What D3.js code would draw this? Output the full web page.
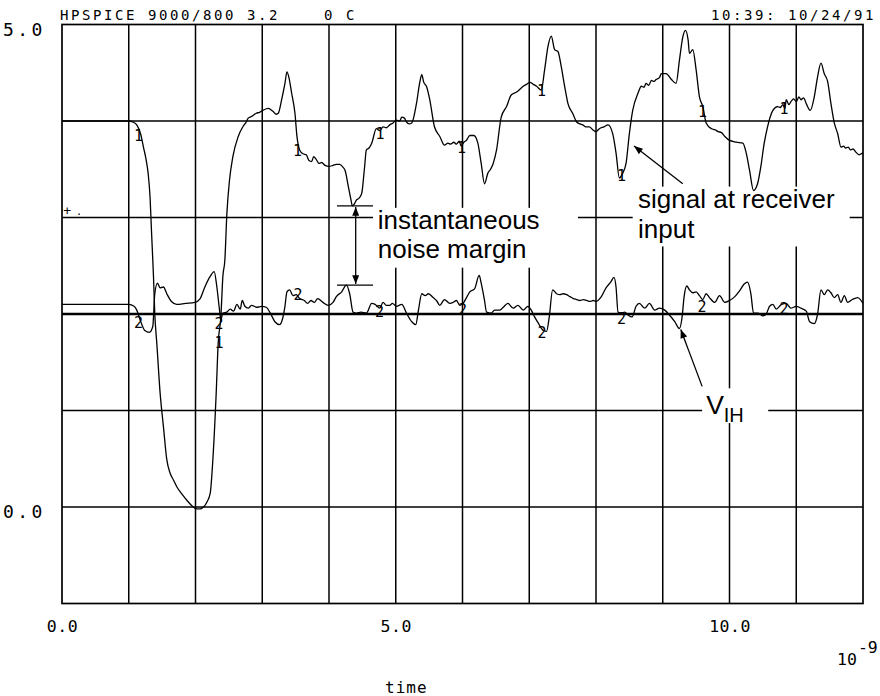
<!DOCTYPE html>
<html>
<head>
<meta charset="utf-8">
<script src="https://cdn.jsdelivr.net/npm/d3@7"></script>
<style>
  body { margin: 0; background: #fff; }
  svg { display: block; }
  .mono { font-family: "DejaVu Sans Mono", monospace; fill: #000; white-space: pre; }
  .note { font-family: "Liberation Sans", Arial, Helvetica, sans-serif; fill: #000; }
</style>
</head>
<body>
<svg id="chart" width="880" height="696"></svg>
<script>
// ---- data (time in ns, voltage in V) ----
const headerLeft = "HPSPICE 9000/800 3.2    0 C";
const headerRight = "10:39: 10/24/91";

const timeTicks = [0, 5, 10];
const timeTickLabels = ["0.0", "5.0", "10.0"];
const voltTicks = [0, 5];
const voltTickLabels = ["0.0", "5.0"];
const gridTimes = [1, 2, 3, 4, 5, 6, 7, 8, 9, 10, 11];
const gridVolts = [0, 1, 2, 3, 4];
const vihLevel = 2.0;

// trace 1: signal at receiver input
const receiverInput = [
  [0,4.00],[1.00,4.00],[1.06,3.99],[1.12,3.96],[1.18,3.86],[1.22,3.73],[1.26,3.60],[1.29,3.46],[1.32,3.20],[1.34,2.87],
  [1.37,2.40],[1.39,2.00],[1.42,1.70],[1.47,1.18],[1.52,0.83],[1.57,0.49],[1.62,0.35],[1.67,0.28],[1.72,0.21],[1.80,0.13],
  [1.87,0.07],[1.95,0.01],[2.02,-0.02],[2.07,-0.02],[2.12,0.00],[2.17,0.05],[2.22,0.14],[2.26,0.49],[2.31,1.18],[2.34,1.70],
  [2.38,1.97],[2.41,2.39],[2.44,2.56],[2.47,3.04],[2.51,3.39],[2.56,3.63],[2.64,3.84],[2.71,3.94],[2.76,3.99],[2.79,4.03],
  [2.85,4.05],[2.91,4.08],[2.96,4.09],[3.01,4.11],[3.09,4.13],[3.16,4.10],[3.21,4.07],[3.24,4.08],[3.29,4.22],[3.34,4.39],
  [3.37,4.51],[3.40,4.45],[3.44,4.29],[3.49,4.08],[3.52,3.84],[3.56,3.70],[3.61,3.66],[3.66,3.65],[3.70,3.59],[3.74,3.58],
  [3.77,3.63],[3.81,3.60],[3.85,3.56],[3.89,3.57],[3.94,3.54],[4.00,3.53],[4.06,3.54],[4.11,3.55],[4.16,3.55],[4.21,3.52],
  [4.24,3.49],[4.29,3.32],[4.33,3.18],[4.35,3.12],[4.38,3.14],[4.41,3.18],[4.45,3.20],[4.49,3.25],[4.53,3.50],[4.56,3.70],
  [4.60,3.72],[4.64,3.77],[4.71,3.92],[4.76,3.90],[4.81,3.94],[4.86,3.93],[4.91,3.96],[4.96,3.98],[5.01,4.01],[5.06,4.00],
  [5.09,4.04],[5.13,4.03],[5.16,3.99],[5.20,3.97],[5.24,3.98],[5.31,4.18],[5.36,4.40],[5.39,4.48],[5.42,4.40],[5.46,4.36],
  [5.51,4.22],[5.58,3.94],[5.66,3.84],[5.73,3.75],[5.78,3.77],[5.82,3.76],[5.87,3.78],[5.91,3.76],[5.95,3.79],[5.98,3.74],
  [6.02,3.78],[6.06,3.80],[6.11,3.85],[6.17,3.85],[6.23,3.77],[6.28,3.56],[6.33,3.35],[6.38,3.46],[6.42,3.50],[6.46,3.56],
  [6.51,3.70],[6.58,4.04],[6.66,4.15],[6.73,4.27],[6.81,4.30],[6.86,4.33],[6.91,4.36],[6.96,4.38],[7.01,4.40],[7.06,4.38],
  [7.11,4.36],[7.18,4.32],[7.23,4.53],[7.28,4.77],[7.33,4.88],[7.38,4.74],[7.43,4.72],[7.48,4.56],[7.53,4.36],[7.58,4.18],
  [7.65,4.08],[7.71,3.99],[7.76,3.97],[7.80,3.96],[7.85,3.94],[7.90,3.94],[7.95,3.91],[8.00,3.89],[8.05,3.92],[8.12,3.94],
  [8.18,3.96],[8.25,3.87],[8.30,3.67],[8.35,3.41],[8.40,3.46],[8.45,3.56],[8.50,3.87],[8.55,4.11],[8.63,4.29],[8.68,4.36],
  [8.72,4.35],[8.75,4.39],[8.79,4.37],[8.83,4.42],[8.87,4.41],[8.90,4.43],[8.95,4.45],[8.98,4.49],[9.05,4.49],[9.13,4.43],
  [9.20,4.39],[9.25,4.63],[9.30,4.87],[9.34,4.94],[9.38,4.84],[9.40,4.70],[9.45,4.74],[9.50,4.53],[9.55,4.25],[9.60,4.15],
  [9.65,3.98],[9.73,3.92],[9.78,3.91],[9.83,3.89],[9.88,3.88],[9.93,3.84],[10.00,3.80],[10.05,3.79],[10.10,3.78],[10.20,3.77],
  [10.25,3.67],[10.30,3.49],[10.36,3.28],[10.42,3.35],[10.47,3.53],[10.52,3.77],[10.57,3.94],[10.65,4.11],[10.72,4.15],[10.76,4.14],
  [10.80,4.17],[10.83,4.13],[10.85,4.22],[10.89,4.17],[10.92,4.20],[10.96,4.23],[11.00,4.20],[11.04,4.25],[11.07,4.22],[11.11,4.24],
  [11.15,4.18],[11.21,4.11],[11.27,4.25],[11.32,4.46],[11.37,4.60],[11.42,4.49],[11.47,4.41],[11.52,4.18],[11.57,3.98],[11.62,3.87],
  [11.67,3.73],[11.71,3.74],[11.74,3.72],[11.78,3.73],[11.81,3.70],[11.85,3.71],[11.89,3.68],[11.94,3.65],[12.00,3.67]
];

// trace 2: V_IH of the receiver
const vihTrace = [
  [0,2.10],[1.00,2.10],[1.08,2.08],[1.12,2.04],[1.17,1.94],[1.24,1.83],[1.31,1.81],[1.36,1.87],[1.39,2.21],[1.43,2.32],
  [1.47,2.27],[1.52,2.28],[1.57,2.21],[1.64,2.13],[1.72,2.10],[1.85,2.11],[1.99,2.12],[2.07,2.16],[2.14,2.28],[2.22,2.39],
  [2.28,2.44],[2.32,2.28],[2.36,2.04],[2.38,1.94],[2.41,2.01],[2.47,2.02],[2.52,2.05],[2.57,2.03],[2.62,2.10],[2.67,2.05],
  [2.70,2.14],[2.74,2.08],[2.79,2.06],[2.84,2.09],[2.92,2.07],[2.99,2.08],[3.06,2.07],[3.12,2.01],[3.19,1.92],[3.26,1.89],
  [3.30,1.94],[3.34,2.08],[3.37,2.23],[3.41,2.25],[3.46,2.19],[3.51,2.20],[3.56,2.16],[3.63,2.14],[3.68,2.11],[3.73,2.14],
  [3.78,2.12],[3.83,2.16],[3.91,2.12],[3.99,2.09],[4.06,2.12],[4.11,2.18],[4.19,2.23],[4.26,2.30],[4.31,2.21],[4.36,2.02],
  [4.41,2.01],[4.48,2.02],[4.56,2.01],[4.64,2.11],[4.69,2.10],[4.76,2.06],[4.81,2.12],[4.86,2.09],[4.91,2.09],[4.95,2.11],
  [5.01,2.08],[5.09,2.10],[5.16,2.01],[5.24,1.92],[5.30,1.89],[5.34,2.04],[5.39,2.21],[5.44,2.19],[5.49,2.21],[5.56,2.17],
  [5.61,2.14],[5.66,2.09],[5.73,2.15],[5.81,2.11],[5.86,2.12],[5.91,2.14],[5.96,2.09],[6.01,2.11],[6.06,2.17],[6.11,2.23],
  [6.18,2.26],[6.25,2.40],[6.28,2.32],[6.33,2.14],[6.36,2.02],[6.43,2.01],[6.48,2.04],[6.56,2.04],[6.61,2.07],[6.68,2.11],
  [6.76,2.06],[6.83,2.09],[6.91,2.04],[6.98,2.08],[7.03,2.04],[7.08,1.97],[7.14,1.90],[7.21,1.83],[7.26,1.82],[7.30,1.97],
  [7.35,2.25],[7.41,2.21],[7.46,2.20],[7.51,2.21],[7.56,2.20],[7.61,2.18],[7.66,2.16],[7.71,2.15],[7.76,2.14],[7.81,2.15],
  [7.86,2.14],[7.91,2.13],[7.96,2.14],[8.00,2.13],[8.08,2.18],[8.15,2.27],[8.22,2.33],[8.27,2.38],[8.30,2.28],[8.33,2.02],
  [8.38,2.01],[8.43,2.02],[8.48,1.99],[8.54,1.97],[8.60,2.08],[8.65,2.11],[8.73,2.06],[8.80,2.11],[8.88,2.04],[8.95,2.06],
  [9.03,2.04],[9.10,1.99],[9.18,1.92],[9.25,1.85],[9.29,1.97],[9.32,2.18],[9.36,2.29],[9.40,2.25],[9.45,2.22],[9.50,2.23],
  [9.55,2.19],[9.60,2.15],[9.65,2.21],[9.70,2.17],[9.78,2.12],[9.85,2.19],[9.93,2.12],[10.00,2.14],[10.08,2.18],[10.15,2.24],
  [10.22,2.31],[10.27,2.33],[10.32,2.21],[10.36,2.01],[10.43,2.01],[10.50,1.98],[10.55,2.00],[10.60,2.08],[10.65,2.10],[10.70,2.05],
  [10.78,2.10],[10.85,2.11],[10.92,2.06],[11.00,2.08],[11.07,2.06],[11.15,2.03],[11.20,1.92],[11.27,1.90],[11.32,2.00],[11.37,2.25],
  [11.42,2.20],[11.47,2.25],[11.52,2.22],[11.57,2.17],[11.62,2.20],[11.67,2.12],[11.72,2.19],[11.77,2.12],[11.84,2.15],[11.92,2.17],
  [12.00,2.11]
];

// trace identifiers placed along each curve
const receiverMarks = [[1.146,3.84],[3.528,3.69],[4.764,3.87],[5.985,3.72],[7.184,4.31],[8.382,3.43],[9.596,4.09],[10.816,4.12],[2.352,1.70]];
const vihMarks = [[1.146,1.91],[2.352,1.895],[3.536,2.20],[4.757,2.02],[6.0,2.04],[7.191,1.80],[8.382,1.95],[9.588,2.07],[10.816,2.05]];

// noise margin at t = 4.4 ns: receiver minimum vs V_IH maximum
const marginTime = 4.40;
const marginSpan = [4.12, 4.66];
const marginHigh = 3.12;
const marginLow = 2.30;

// ---- scales ----
const x = d3.scaleLinear().domain([0, 12]).range([62, 863]);
const y = d3.scaleLinear().domain([-1, 5]).range([603.5, 24.5]);

const svg = d3.select("#chart");

// arrow head
svg.append("defs").append("marker")
  .attr("id", "head")
  .attr("viewBox", "0 0 10 8")
  .attr("refX", 10).attr("refY", 4)
  .attr("markerUnits", "userSpaceOnUse")
  .attr("markerWidth", 10).attr("markerHeight", 7)
  .attr("orient", "auto-start-reverse")
  .append("path").attr("d", "M0,0 L10,4 L0,8 Z").attr("fill", "#000");

// ---- grid and frame ----
const grid = svg.append("g").attr("stroke", "#000").attr("stroke-width", 1.5).attr("fill", "none");
grid.selectAll("line.v").data(gridTimes).join("line").attr("class", "v")
  .attr("x1", d => x(d)).attr("x2", d => x(d))
  .attr("y1", y(-1)).attr("y2", y(5));
grid.selectAll("line.h").data(gridVolts).join("line").attr("class", "h")
  .attr("x1", x(0)).attr("x2", x(12))
  .attr("y1", d => y(d)).attr("y2", d => y(d));
grid.append("rect")
  .attr("x", x(0)).attr("y", y(5))
  .attr("width", x(12) - x(0)).attr("height", y(-1) - y(5))
  .attr("stroke-width", 1.7);

// V_IH reference level
svg.append("line")
  .attr("x1", x(0)).attr("x2", x(12))
  .attr("y1", y(vihLevel)).attr("y2", y(vihLevel))
  .attr("stroke", "#000").attr("stroke-width", 2.4);

// ---- axis labels ----
const xAxis = d3.axisBottom(x).tickValues(timeTicks)
  .tickFormat((d, i) => timeTickLabels[i]).tickSize(0);
const gx = svg.append("g").attr("transform", `translate(0,${y(-1)})`).call(xAxis);
gx.select(".domain").remove();
gx.selectAll("text")
  .attr("y", 28.5).attr("dy", 0)
  .attr("class", "mono")
  .style("font-size", "16.5px").style("letter-spacing", "0.5px")
  .attr("text-anchor", "middle");

const yAxis = d3.axisLeft(y).tickValues(voltTicks)
  .tickFormat((d, i) => voltTickLabels[i]).tickSize(0);
const gy = svg.append("g").attr("transform", `translate(${x(0)},0)`).call(yAxis);
gy.select(".domain").remove();
gy.selectAll("text")
  .attr("x", 3 - x(0)).attr("dy", 0).attr("y", 10.5)
  .attr("class", "mono")
  .style("font-size", "18px").style("letter-spacing", "3.4px")
  .attr("text-anchor", "start");

svg.selectAll(".tick text").attr("fill", "#000");

// exponent and axis title
const exp = svg.append("text").attr("class", "mono").style("font-size", "16.5px")
  .attr("x", 837).attr("y", 665);
exp.append("tspan").text("10");
exp.append("tspan").attr("dy", -12).attr("dx", 1).text("-9");
svg.append("text").attr("class", "mono").style("font-size", "16px")
  .style("letter-spacing", "1px")
  .attr("x", 385).attr("y", 693).text("time");

// header lines
svg.append("text").attr("class", "mono").style("font-size", "14px")
  .style("letter-spacing", "2.57px")
  .attr("x", 60).attr("y", 20).text(headerLeft);
svg.append("text").attr("class", "mono").style("font-size", "14px")
  .style("letter-spacing", "2.57px").attr("text-anchor", "end")
  .attr("x", 876).attr("y", 20).text(headerRight);

// stray plotter marks at the 3 V level
svg.append("text").attr("class", "mono").style("font-size", "13px")
  .attr("x", x(0.02)).attr("y", y(3) - 3).text("+");
svg.append("text").attr("class", "mono").style("font-size", "10px")
  .attr("x", x(0.21)).attr("y", y(3) - 3).text(".");

// ---- label background boxes (interrupt the grid) ----
const boxes = [
  { t0: 4.66, t1: 7.73, v0: 3.10, v1: 2.48 },
  { t0: 8.55, t1: 11.80, v0: 3.32, v1: 2.70 },
  { t0: 9.59, t1: 10.58, v0: 1.23, v1: 0.87 }
];
svg.selectAll("rect.box").data(boxes).join("rect").attr("class", "box")
  .attr("x", d => x(d.t0)).attr("y", d => y(d.v0))
  .attr("width", d => x(d.t1) - x(d.t0)).attr("height", d => y(d.v1) - y(d.v0))
  .attr("fill", "#fff");

// ---- traces ----
const line = d3.line().x(d => x(d[0])).y(d => y(d[1])).curve(d3.curveMonotoneX);
svg.append("path").datum(receiverInput).attr("d", line)
  .attr("fill", "none").attr("stroke", "#000").attr("stroke-width", 1.3);
svg.append("path").datum(vihTrace).attr("d", line)
  .attr("fill", "none").attr("stroke", "#000").attr("stroke-width", 1.3);

// trace identifiers
svg.selectAll("text.m1").data(receiverMarks).join("text").attr("class", "mono m1")
  .style("font-size", "15px").attr("text-anchor", "middle").attr("dominant-baseline", "central")
  .attr("x", d => x(d[0])).attr("y", d => y(d[1])).text("1");
svg.selectAll("text.m2").data(vihMarks).join("text").attr("class", "mono m2")
  .style("font-size", "15px").attr("text-anchor", "middle").attr("dominant-baseline", "central")
  .attr("x", d => x(d[0])).attr("y", d => y(d[1])).text("2");

// ---- annotations ----
const ann = svg.append("g").attr("stroke", "#000").attr("stroke-width", 1.3);
[marginHigh, marginLow].forEach(v => {
  ann.append("line").attr("x1", x(marginSpan[0])).attr("x2", x(marginSpan[1]))
    .attr("y1", y(v)).attr("y2", y(v));
});
ann.append("line")
  .attr("x1", x(marginTime)).attr("x2", x(marginTime))
  .attr("y1", y(marginHigh) + 1).attr("y2", y(marginLow) - 1)
  .attr("marker-start", "url(#head)").attr("marker-end", "url(#head)");
ann.append("line")
  .attr("x1", x(9.30)).attr("y1", y(3.35))
  .attr("x2", x(8.57)).attr("y2", y(3.74))
  .attr("marker-end", "url(#head)");
ann.append("line")
  .attr("x1", x(9.59)).attr("y1", y(1.25))
  .attr("x2", x(9.27)).attr("y2", y(1.84))
  .attr("marker-end", "url(#head)");

// two-line notes: one text element per note, one tspan per line
function note(lines, t, v, lineGap) {
  const el = svg.append("text").attr("class", "note").style("font-size", "26px")
    .attr("x", x(t)).attr("y", y(v));
  lines.forEach((s, i) => {
    el.append("tspan").attr("x", x(t)).attr("dy", i === 0 ? 0 : lineGap).text(s);
  });
}
note(["instantaneous", "noise margin"], 4.73, 2.885, 29.5);
note(["signal at receiver", "input"], 8.63, 3.095, 29.5);

const vih = svg.append("text").attr("class", "note").style("font-size", "26.5px")
  .attr("x", x(9.65)).attr("y", y(0.96));
vih.append("tspan").text("V");
vih.append("tspan").attr("dy", 8).style("font-size", "20px").text("IH");
</script>
</body>
</html>
